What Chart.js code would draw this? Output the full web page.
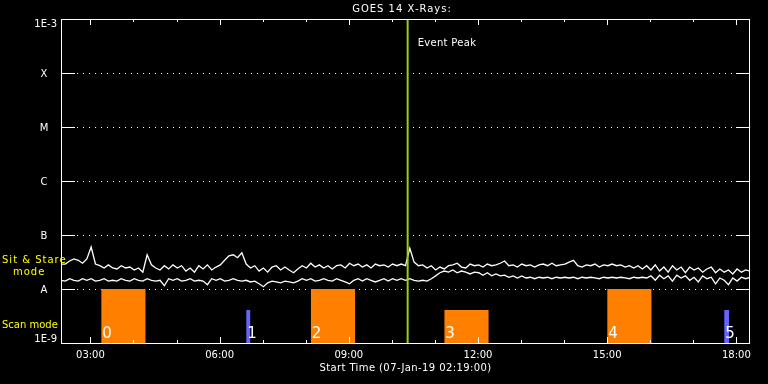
<!DOCTYPE html>
<html>
<head>
<meta charset="utf-8">
<title>GOES 14 X-Rays</title>
<script src="https://cdn.jsdelivr.net/npm/chart.js@4/dist/chart.umd.min.js"></script>
<style>
  html, body { margin: 0; padding: 0; background: #000; }
  canvas { display: block; }
</style>
</head>
<body>
<canvas id="goesChart" width="768" height="384"></canvas>
<script>
// GOES 14 flux, one sample every 6 minutes from the start time, in units of 1e-8 W/m^2
var startTime = '02:19';
var sampleMinutes = 6;
var fluxUnit = 1e-8;

var longFlux = [
  2.9, 2.9, 3.3, 3.6, 3.4, 3.0, 3.6, 6.0, 2.9, 2.7,
  2.45, 2.8, 2.45, 2.35, 2.7, 2.45, 2.55, 2.25, 2.45, 2.05,
  4.3, 2.8, 2.45, 2.25, 2.7, 2.35, 2.8, 2.45, 2.7, 2.15,
  2.45, 2.05, 2.7, 2.35, 2.8, 2.25, 2.55, 2.8, 3.4, 4.1,
  4.3, 3.8, 4.7, 2.9, 2.45, 2.7, 2.15, 2.45, 2.05, 2.55,
  2.7, 2.25, 2.55, 2.25, 2.0, 2.35, 2.7, 2.45, 3.0, 2.55,
  2.8, 2.45, 2.7, 2.35, 2.7, 2.8, 2.45, 3.0, 2.7, 2.9,
  2.55, 2.8, 2.45, 2.9, 2.7, 2.8, 2.55, 2.9, 2.7, 2.9,
  2.7, 5.7, 3.15, 2.7, 2.8, 2.45, 2.7, 2.25, 2.55, 2.35,
  2.7, 2.8, 3.0, 2.55, 2.45, 2.9, 2.7, 2.8, 2.55, 2.9,
  2.7, 2.8, 3.0, 3.3, 2.7, 2.8, 2.55, 2.9, 2.7, 2.8,
  2.55, 2.8, 2.9, 2.7, 3.0, 2.7, 2.8, 2.9, 3.15, 3.4,
  2.7, 2.55, 2.8, 2.7, 2.9, 2.55, 2.8, 2.7, 2.9, 2.7,
  2.8, 2.55, 2.7, 2.45, 2.7, 2.35, 2.7, 2.25, 2.8, 2.15,
  2.55, 2.05, 2.7, 2.25, 2.55, 2.0, 2.55, 2.25, 2.45, 2.05,
  2.35, 2.55, 2.0, 2.35, 2.05, 2.25, 1.9, 2.35, 2.05, 2.25, 2.15
];

var shortFlux = [
  1.45, 1.4, 1.55, 1.45, 1.4, 1.55, 1.45, 1.55, 1.4, 1.45,
  1.55, 1.4, 1.45, 1.4, 1.55, 1.45, 1.4, 1.55, 1.45, 1.4,
  1.55, 1.45, 1.4, 1.45, 1.15, 1.55, 1.45, 1.55, 1.4, 1.45,
  1.55, 1.4, 1.45, 1.4, 1.2, 1.55, 1.45, 1.55, 1.4, 1.45,
  1.55, 1.45, 1.4, 1.45, 1.35, 1.4, 1.25, 1.1, 1.3, 1.4,
  1.35, 1.3, 1.4, 1.35, 1.3, 1.4, 1.55, 1.45, 1.55, 1.4,
  1.45, 1.55, 1.45, 1.4, 1.55, 1.45, 1.35, 1.25, 1.45, 1.55,
  1.4, 1.55, 1.45, 1.35, 1.45, 1.55, 1.4, 1.55, 1.45, 1.55,
  1.45, 1.55, 1.45, 1.4, 1.45, 1.4, 1.55, 1.75, 2.0, 2.15,
  2.05, 2.25, 2.0, 2.15, 2.05, 1.9, 2.05, 2.0, 1.8, 2.0,
  1.75, 1.9, 1.75, 1.8, 1.65, 1.75, 1.6, 1.75, 1.6, 1.65,
  1.55, 1.65, 1.6, 1.65, 1.55, 1.65, 1.6, 1.65, 1.6, 1.65,
  1.55, 1.65, 1.6, 1.65, 1.6, 1.55, 1.65, 1.6, 1.65, 1.6,
  1.65, 1.6, 1.55, 1.65, 1.6, 1.65, 1.6, 1.75, 1.45, 1.8,
  1.55, 1.75, 1.4, 1.8, 1.6, 1.75, 1.45, 1.65, 1.35, 1.75,
  1.55, 1.65, 1.25, 1.6, 1.45, 1.2, 1.6, 1.4, 1.65, 1.55, 1.65
];

// flare classes on the left axis
var classLabels = ['1E-9', 'A', 'B', 'C', 'M', 'X', '1E-3'];
var classValues = [1e-9, 1e-8, 1e-7, 1e-6, 1e-5, 1e-4, 1e-3];

var axisStart = '02:19';
var axisEnd = '18:19';
var tickHours = [3, 4, 5, 6, 7, 8, 9, 10, 11, 12, 13, 14, 15, 16, 17, 18];
var labelHours = [3, 6, 9, 12, 15, 18];

var eventPeak = '10:22';

// observation blocks along the bottom
var obsNumber = ['0', '1', '2', '3', '4', '5'];
var obsStart = ['03:15', '06:37', '08:07', '11:13', '15:00', '17:43'];
var obsEnd = ['04:17', '06:43', '09:09', '12:15', '16:02', '17:50'];
var obsTop = [1e-8, 4.1e-9, 1e-8, 4.1e-9, 1e-8, 4.1e-9];
var obsKind = ['long', 'short', 'long', 'long', 'long', 'short'];

var kindColor = { long: '#ff8000', short: '#6464ff' };
var font = '"DejaVu Sans", sans-serif';

function hrs(s) {
  var p = s.split(':');
  return parseInt(p[0], 10) + parseInt(p[1], 10) / 60;
}
function pad(n) { return (n < 10 ? '0' : '') + n; }

var t0 = hrs(startTime);
function series(vals) {
  var out = [];
  for (var i = 0; i < vals.length; i++) {
    out.push({ x: t0 + i * sampleMinutes / 60, y: vals[i] * fluxUnit });
  }
  return out;
}

var datasets = [];
datasets.push({
  data: [{ x: hrs(eventPeak), y: 1e-9 }, { x: hrs(eventPeak), y: 1e-3 }],
  borderColor: '#9acd1e', borderWidth: 2, pointRadius: 0, fill: false, order: 0
});
datasets.push({ data: series(longFlux), borderColor: '#ffffff', borderWidth: 1.3, pointRadius: 0, tension: 0, fill: false, order: 1 });
datasets.push({ data: series(shortFlux), borderColor: '#ffffff', borderWidth: 1.3, pointRadius: 0, tension: 0, fill: false, order: 1 });
for (var k = 0; k < obsStart.length; k++) {
  datasets.push({
    data: [{ x: hrs(obsStart[k]), y: obsTop[k] }, { x: hrs(obsEnd[k]), y: obsTop[k] }],
    borderWidth: 0, borderColor: kindColor[obsKind[k]],
    backgroundColor: kindColor[obsKind[k]],
    pointRadius: 0, fill: 'start', order: 2
  });
}

var goesFrame = {
  id: 'goesFrame',
  beforeDraw: function (chart) {
    var c = chart.ctx;
    c.save();
    c.fillStyle = '#000';
    c.fillRect(0, 0, chart.width, chart.height);
    c.restore();
  },
  beforeDatasetsDraw: function (chart) {
    var c = chart.ctx, a = chart.chartArea, ys = chart.scales.y;
    c.save();
    c.strokeStyle = '#fff';
    c.lineWidth = 1;
    for (var i = 1; i < classValues.length - 1; i++) {
      var y = Math.round(ys.getPixelForValue(classValues[i])) + 0.5;
      c.setLineDash([]);
      c.beginPath();
      c.moveTo(a.left, y); c.lineTo(a.left + 14, y);
      c.moveTo(a.right - 14, y); c.lineTo(a.right, y);
      c.stroke();
      c.setLineDash([1, 5]);
      c.beginPath();
      c.moveTo(a.left + 16, y); c.lineTo(a.right - 14, y);
      c.stroke();
    }
    c.restore();
  },
  afterDatasetsDraw: function (chart) {
    var c = chart.ctx, a = chart.chartArea, xs = chart.scales.x, ys = chart.scales.y;
    c.save();
    c.strokeStyle = '#fff';
    c.lineWidth = 1;
    c.setLineDash([]);
    c.strokeRect(a.left + 0.5, a.top + 0.5, a.right - a.left - 1, a.bottom - a.top);

    // hour ticks, pointing inward
    c.beginPath();
    tickHours.forEach(function (h) {
      var x = Math.round(xs.getPixelForValue(h)) + 0.5;
      var len = labelHours.indexOf(h) >= 0 ? 6 : 3;
      c.moveTo(x, a.bottom); c.lineTo(x, a.bottom - len);
      c.moveTo(x, a.top); c.lineTo(x, a.top + len);
    });
    c.stroke();

    c.fillStyle = '#fff';
    c.font = '10px ' + font;
    c.textAlign = 'center';
    c.textBaseline = 'middle';
    labelHours.forEach(function (h) {
      c.fillText(pad(h) + ':00', xs.getPixelForValue(h), 355);
    });
    c.letterSpacing = '0.4px';
    c.fillText('Start Time (07-Jan-19 ' + startTime + ':00)', (a.left + a.right) / 2, 368);
    c.letterSpacing = '1px';
    c.fillText('GOES 14 X-Rays:', 402, 9);
    c.letterSpacing = '0px';

    // class labels on the left
    for (var i = 0; i < classLabels.length; i++) {
      var y = ys.getPixelForValue(classValues[i]);
      if (i === 0) {
        c.textAlign = 'right'; c.textBaseline = 'bottom';
        c.fillText(classLabels[i], 57, y + 1);
      } else if (i === classLabels.length - 1) {
        c.textAlign = 'right'; c.textBaseline = 'top';
        c.fillText(classLabels[i], 57, y);
      } else {
        c.textAlign = 'center'; c.textBaseline = 'middle';
        c.fillText(classLabels[i], 44, y + 1);
      }
    }

    c.textAlign = 'left'; c.textBaseline = 'middle';
    c.letterSpacing = '0.3px';
    c.fillText('Event Peak', xs.getPixelForValue(hrs(eventPeak)) + 10, 43);
    c.letterSpacing = '0px';

    // block numbers
    c.font = '15px ' + font;
    c.textBaseline = 'alphabetic';
    for (var k = 0; k < obsNumber.length; k++) {
      c.fillText(obsNumber[k], xs.getPixelForValue(hrs(obsStart[k])) + 1, 338);
    }

    // mode labels
    c.fillStyle = '#ffff00';
    c.font = '10px ' + font;
    c.letterSpacing = '1px';
    c.fillText('Sit & Stare', 2, 263);
    c.fillText('mode', 13, 275);
    c.letterSpacing = '0px';
    c.fillText('Scan mode', 2, 328);
    c.restore();
  }
};

new Chart(document.getElementById('goesChart'), {
  type: 'line',
  data: { datasets: datasets },
  options: {
    responsive: false,
    animation: false,
    devicePixelRatio: 1,
    layout: { padding: { left: 61, right: 18, top: 19, bottom: 41 } },
    plugins: { legend: { display: false }, tooltip: { enabled: false } },
    scales: {
      x: { type: 'linear', display: false, min: hrs(axisStart), max: hrs(axisEnd) },
      y: { type: 'logarithmic', display: false, min: classValues[0], max: classValues[classValues.length - 1] }
    }
  },
  plugins: [goesFrame]
});
</script>
</body>
</html>
